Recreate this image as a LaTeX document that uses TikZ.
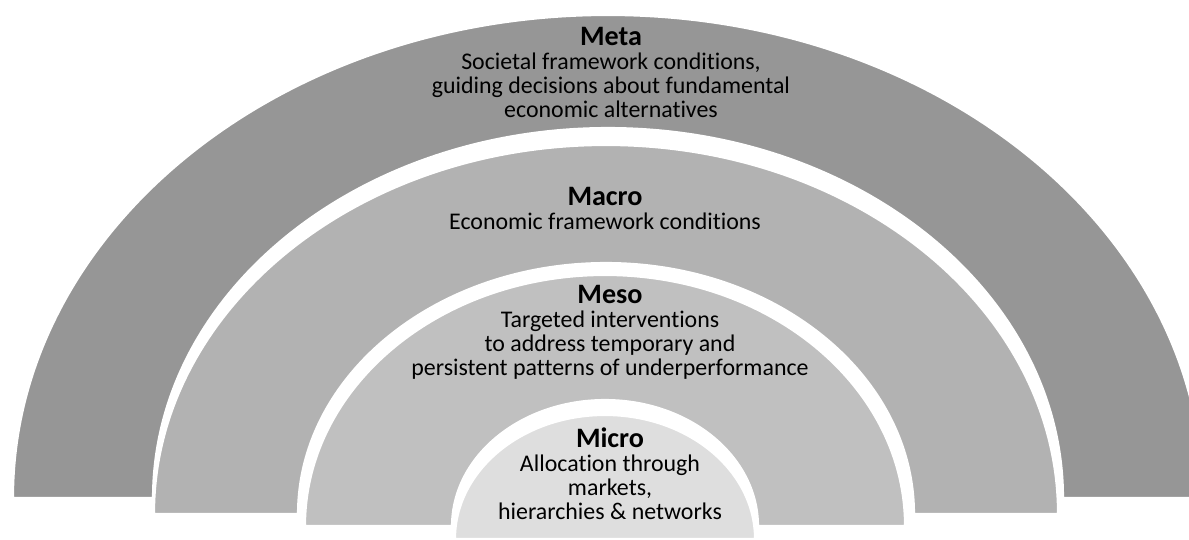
\documentclass[tikz,border=0pt]{standalone}
\usepackage{fontspec}
\setmainfont{Carlito}[Ligatures=NoCommon]
\definecolor{metagray}{RGB}{150,150,150}
\definecolor{macrogray}{RGB}{178,178,178}
\definecolor{mesogray}{RGB}{192,192,192}
\definecolor{microgray}{RGB}{222,222,222}

\begin{document}
\begin{tikzpicture}[x=0.02cm,y=0.02cm,
  band/.style={draw=white, line width=1.2pt},
  level/.style={align=center, anchor=north, inner sep=0pt,
    font=\fontsize{13.6}{13.7}\selectfont}]
\useasboundingbox (0,0) rectangle (1189,539);
\clip (0,0) rectangle (1189,539);

% block arcs: centre x / base / outer radii / inner radii / colour
\foreach \cx/\base/\Rx/\Ry/\rx/\ry/\col in {
  608/41/595/483/455/370/metagray,
  606/25/452/369/308/251/macrogray,
  605/13/300/251/153/126/mesogray} {
  \filldraw[band, fill=\col] (\cx-\Rx,\base)
    arc[start angle=180, end angle=0, x radius=\Rx, y radius=\Ry]
    -- (\cx+\rx,\base)
    arc[start angle=0, end angle=180, x radius=\rx, y radius=\ry] -- cycle;
}
% innermost half disc
\filldraw[band, fill=microgray] (455,0)
  arc[start angle=180, end angle=0, x radius=150, y radius=124] -- cycle;

% labels
\node[level] (meta) at (611,512) {{\bfseries\fontsize{16}{13.7}\selectfont Meta}\\
  Societal framework conditions,\\guiding decisions about fundamental\\economic alternatives};
\node[level] (macro) at (605,352) {{\bfseries\fontsize{16}{13.7}\selectfont Macro}\\
  Economic framework conditions};
\node[level] (meso) at (610,254) {{\bfseries\fontsize{16}{13.7}\selectfont Meso}\\
  Targeted interventions\\to address temporary and\\persistent patterns of underperformance};
\node[level] (micro) at (610,112) {{\bfseries\fontsize{16}{13.7}\selectfont Micro}\\
  Allocation through\\markets,\\hierarchies \& networks};

\end{tikzpicture}
\end{document}
